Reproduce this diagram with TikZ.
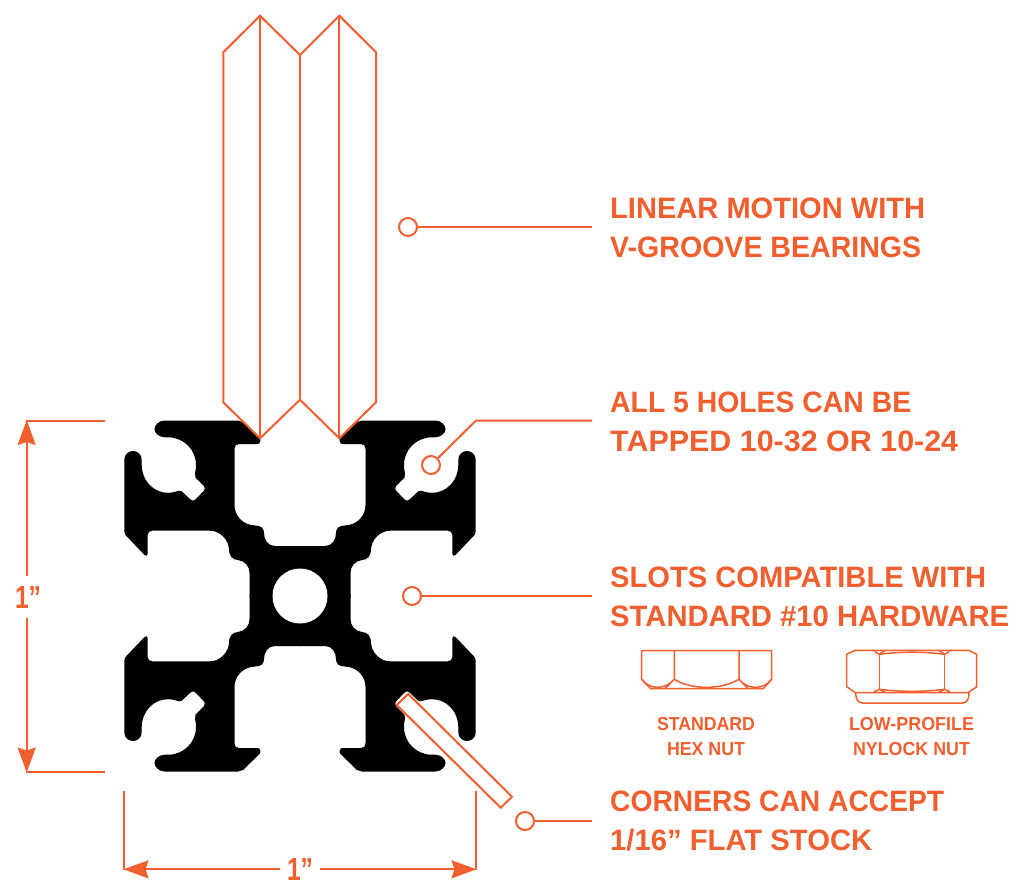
\documentclass[tikz,border=0pt]{standalone}
\usepackage{fontspec}
\usepackage{graphicx}
\setmainfont{Liberation Sans}
\usetikzlibrary{arrows.meta}
\definecolor{accent}{HTML}{F15F2F}
\newcommand{\fitw}[2]{\resizebox{#1pt}{\height}{#2}}
\tikzset{
  x=1pt,y=-1pt,
  ln/.style={draw=accent,line width=2pt,line join=miter},
  thin ln/.style={draw=accent,line width=1.5pt,line join=round},
  marker/.style={circle,draw=accent,line width=2pt,fill=white,minimum size=18pt,inner sep=0pt},
  big/.style={text=accent,font=\fontsize{29.5}{38.5}\selectfont\bfseries,align=left,inner sep=0pt,anchor=north west},
  small/.style={text=accent,font=\fontsize{18.8}{25}\selectfont\bfseries,align=center,inner sep=0pt,anchor=north},
  dim/.style={text=accent,font=\fontsize{32}{36}\selectfont\bfseries,inner sep=0pt,minimum height=42pt,minimum width=40pt},
  dimline/.style={draw=accent,line width=2pt,-{Stealth[length=25pt,width=18pt,inset=3pt]}},
  tick/.style={draw=accent,line width=2pt},
}
\newcommand{\quadrant}{%
 \fill[black] (302,546) -- (275,546)
  .. controls (268,546) and (264,540) .. (264,533)
  .. controls (264,528) and (261,525.5) .. (255,525.5)
  .. controls (243,525) and (234.5,516) .. (234.5,505)
  -- (234.5,449)
  .. controls (234.5,446) and (236,444) .. (239,444)
  -- (258,444) .. controls (260,444) and (261,440) .. (260,438.5)
  -- (243,422) .. controls (241,421) and (240,420.5) .. (238,420.5)
  -- (165,420.5)
  .. controls (159,420.5) and (154.5,425) .. (154.5,429)
  .. controls (154.5,433) and (159,437.3) .. (165,437.3)
  -- (168,437.3)
  .. controls (183.5,437.3) and (196,449.5) .. (196,465)
  .. controls (196,468) and (195.7,471) .. (195,473)
  -- (195.5,477.5)
  -- (204,486) .. controls (205,487.5) and (205,489.5) .. (204,490.5)
  -- (195.5,499.5) .. controls (194,501) and (192,501) .. (190.5,499.5)
  -- (182,491.5) .. controls (180.5,490.5) and (178,490.5) .. (176,491.5)
  .. controls (173.5,492.3) and (171,492.8) .. (168,492.8)
  .. controls (153,492.8) and (141.7,480) .. (141.7,465)
  -- (141.7,459.5)
  .. controls (141.7,454.5) and (137.5,451) .. (133,451)
  .. controls (128.5,451) and (124.3,454.5) .. (124.3,459.5)
  -- (124.3,531) .. controls (124.3,533) and (125,534.5) .. (126,535.5)
  -- (144,554.5) .. controls (145.5,556.5) and (147.7,556) .. (147.7,554)
  -- (147.7,535) .. controls (147.7,532.5) and (149.5,530.7) .. (152,530.7)
  -- (210,530.7)
  .. controls (220,530.7) and (229,540) .. (229,550)
  .. controls (229,556) and (233,560) .. (238,560)
  .. controls (245,561) and (249.5,566) .. (249.5,573)
  -- (249.5,598) -- (302,598) -- cycle;
}
\begin{document}
\begin{tikzpicture}
\useasboundingbox (0,0) rectangle (1024,895);
\fill[white] (0,0) rectangle (1024,895);
% extrusion profile
\quadrant
\begin{scope}[shift={(600,0)},xscale=-1]\quadrant\end{scope}
\begin{scope}[shift={(0,1192)},yscale=-1]\quadrant\end{scope}
\begin{scope}[shift={(600,1192)},xscale=-1,yscale=-1]\quadrant\end{scope}
\fill[white] (300,596) circle[radius=27.5];
% bearings
\draw[ln] (223.3,402.3) -- (223.3,52.3) -- (260,15.7) -- (300,55) -- (339.3,15.7) -- (376,52.3) -- (376,402.3) -- (339.3,438.3) -- (300,399.7) -- (260,438.3) -- cycle;
\draw[ln] (260,15.7) -- (260,438.3);
\draw[ln] (300,55) -- (300,399.7);
\draw[ln] (339.3,15.7) -- (339.3,438.3);
% flat stock
\draw[ln,fill=white] (408.3,694) -- (396.7,705) -- (500.7,807.7) -- (512,796.7) -- cycle;
% dimensions
\coordinate (lt) at (105,420.5); \coordinate (ltb) at (26,420.5);
\coordinate (lb) at (105,772);   \coordinate (lbb) at (26,772);
\draw[tick] (ltb) -- (lt);
\draw[tick] (lbb) -- (lb);
\node[dim] (dimL) at (28,597) {\fitw{26}{1”}};
\coordinate (lu) at (26.7,420); \coordinate (ld) at (26.7,772.5);
\draw[dimline] (dimL.north -| lu) -- (lu);
\draw[dimline] (dimL.south -| ld) -- (ld);
\coordinate (bl) at (124,791); \coordinate (blb) at (124,870);
\coordinate (br) at (476,791); \coordinate (brb) at (476,870);
\draw[tick] (bl) -- (blb);
\draw[tick] (br) -- (brb);
\node[dim] (dimB) at (300,869) {\fitw{26}{1”}};
\coordinate (al) at (123.5,869.3); \coordinate (ar) at (476.5,869.3);
\draw[dimline] (dimB.west |- al) -- (al);
\draw[dimline] (dimB.east |- ar) -- (ar);
% markers and leaders
\node[marker] (m1) at (408,227) {};
\node[marker] (m2) at (431,465) {};
\node[marker] (m3) at (412,596) {};
\node[marker] (m4) at (525,821) {};
\coordinate (e1) at (592,227);
\coordinate (k2) at (476,420.5);
\coordinate (e2) at (592,420.5);
\coordinate (e3) at (592,596);
\coordinate (e4) at (592,821);
\draw[ln] (m1) -- (e1);
\draw[ln] (m2) -- (k2) -- (e2);
\draw[ln] (m3) -- (e3);
\draw[ln] (m4) -- (e4);
% labels
\node[big] (t1) at (610,198) {\fitw{315}{LINEAR MOTION WITH}\\\fitw{311}{V-GROOVE BEARINGS}};
\node[big] (t2) at (610,392) {\fitw{301}{ALL 5 HOLES CAN BE}\\\fitw{348}{TAPPED 10-32 OR 10-24}};
\node[big] (t3) at (610,567) {\fitw{376}{SLOTS COMPATIBLE WITH}\\\fitw{399}{STANDARD \#10 HARDWARE}};
\node[big] (t4) at (610,791) {\fitw{334}{CORNERS CAN ACCEPT}\\\fitw{262}{1/16” FLAT STOCK}};
\node[small] (t5) at (706,717) {\fitw{98}{STANDARD}\\\fitw{78}{HEX NUT}};
\node[small] (t6) at (911.5,717) {\fitw{125}{LOW-PROFILE}\\\fitw{117}{NYLOCK NUT}};
% standard nut
\draw[thin ln] (641.7,650.7) -- (771.7,650.7) -- (771.7,679.3) -- (763.3,688.7) -- (650.7,688.7) -- (641.7,679.3) -- cycle;
\draw[thin ln] (674.3,650.7) -- (674.3,679.3) .. controls (692,690) and (721,690) .. (739,679.3) -- (739,650.7);
\draw[thin ln] (641.7,679.3) .. controls (650,690) and (665,690) .. (674.3,679.3) -- (665,688.7);
\draw[thin ln] (771.7,679.3) .. controls (763,690) and (748,690) .. (739,679.3) -- (748,688.7);
% nylock nut
\draw[thin ln] (846.7,654.3) -- (855,650.3) -- (969,650.3) -- (976.7,654.3) -- (976.7,686.7) -- (968.3,692.5) -- (855,692.5) -- (846.7,686.7) -- cycle;
\draw[thin ln] (879.3,654.3) -- (879.3,689.3);
\draw[thin ln] (944.7,654.3) -- (944.7,689.3);
\draw[thin ln] (879.3,654.3) .. controls (900,651.5) and (924,651.5) .. (944.7,654.3);
\draw[thin ln] (879.3,689.3) .. controls (900,692) and (924,692) .. (944.7,689.3);
\draw[thin ln] (873.3,650.3) -- (879.3,654.3) -- (885,650.3);
\draw[thin ln] (938.7,650.3) -- (944.7,654.3) -- (950.7,650.3);
\draw[thin ln] (873.3,692.5) -- (879.3,689.3) -- (885,692.5);
\draw[thin ln] (938.7,692.5) -- (944.7,689.3) -- (950.7,692.5);
\draw[thin ln] (855.5,693) .. controls (856,699) and (858,703) .. (862.5,703) -- (962.5,703) .. controls (967,703) and (969,699) .. (969,693);
\end{tikzpicture}
\end{document}
